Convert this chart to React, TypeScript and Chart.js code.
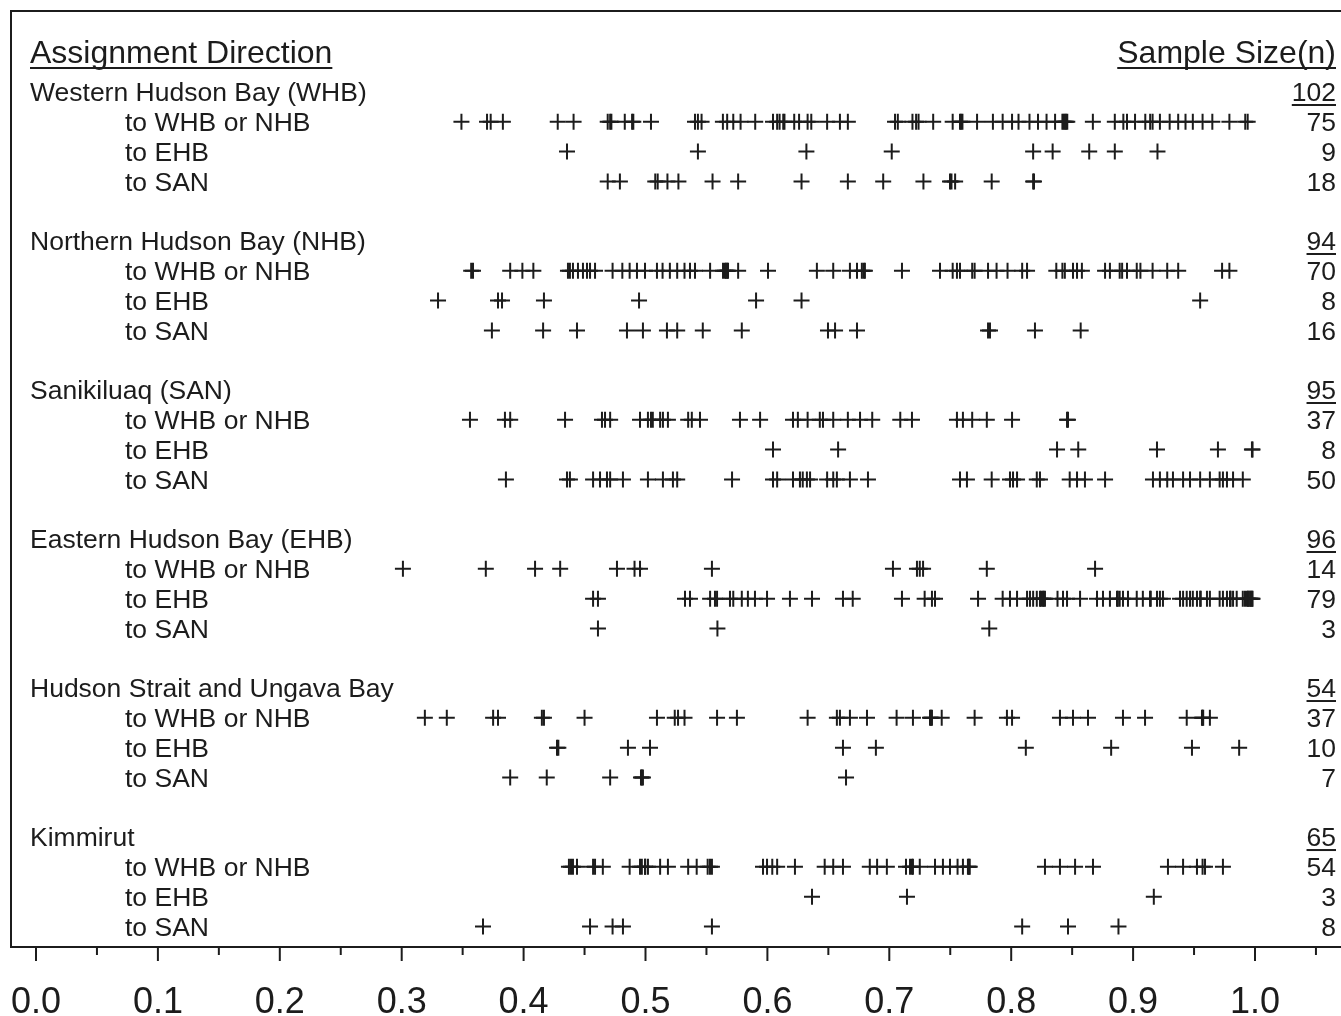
import React, { useEffect, useRef } from "react";
import { Chart, registerables } from "chart.js";

Chart.register(...registerables);

// ---------- data ----------
const groupNames = [
  "Western Hudson Bay (WHB)",
  "Northern Hudson Bay (NHB)",
  "Sanikiluaq (SAN)",
  "Eastern Hudson Bay (EHB)",
  "Hudson Strait and Ungava Bay",
  "Kimmirut",
];
const directionNames = ["to WHB or NHB", "to EHB", "to SAN"];
const groupTotals = [102, 94, 95, 96, 54, 65];
const rowCounts = [
  [75, 9, 18],
  [70, 8, 16],
  [37, 8, 50],
  [14, 79, 3],
  [37, 10, 7],
  [54, 3, 8],
];
const tickValues = [0, 0.1, 0.2, 0.3, 0.4, 0.5, 0.6, 0.7, 0.8, 0.9, 1.0];
const tickLabels = ["0.0", "0.1", "0.2", "0.3", "0.4", "0.5", "0.6", "0.7", "0.8", "0.9", "1.0"];
const minorTickValues = [0.05, 0.15, 0.25, 0.35, 0.45, 0.55, 0.65, 0.75, 0.85, 0.95, 1.05];

const whbToWN = [0.349, 0.370, 0.373, 0.383, 0.428, 0.441, 0.469, 0.471, 0.472, 0.483, 0.489, 0.490, 0.5045, 0.5406, 0.543, 0.546, 0.5635, 0.567, 0.572, 0.578, 0.590, 0.6046, 0.608, 0.610, 0.613, 0.614, 0.622, 0.626, 0.633, 0.636, 0.649, 0.6595, 0.666, 0.7047, 0.707, 0.719, 0.722, 0.724, 0.736, 0.752, 0.758, 0.759, 0.760, 0.772, 0.785, 0.793, 0.8007, 0.806, 0.815, 0.822, 0.829, 0.836, 0.842, 0.843, 0.844, 0.845, 0.846, 0.867, 0.885, 0.892, 0.895, 0.9016, 0.910, 0.914, 0.916, 0.922, 0.930, 0.937, 0.943, 0.949, 0.957, 0.965, 0.979, 0.992, 0.994];
const whbToEHB = [0.4356, 0.543, 0.632, 0.702, 0.818, 0.834, 0.864, 0.885, 0.920];
const whbToSAN = [0.469, 0.479, 0.508, 0.510, 0.518, 0.527, 0.555, 0.576, 0.628, 0.666, 0.695, 0.728, 0.7498, 0.751, 0.754, 0.784, 0.818, 0.8187];

const nhbToWN = [0.357, 0.3585, 0.389, 0.399, 0.408, 0.4364, 0.438, 0.4405, 0.4446, 0.4487, 0.452, 0.4545, 0.4586, 0.473, 0.481, 0.487, 0.493, 0.4996, 0.5094, 0.514, 0.520, 0.526, 0.532, 0.5365, 0.5406, 0.553, 0.5636, 0.5652, 0.566, 0.567, 0.5677, 0.576, 0.6005, 0.6406, 0.654, 0.6677, 0.6735, 0.6775, 0.679, 0.680, 0.7104, 0.7416, 0.752, 0.7555, 0.758, 0.768, 0.770, 0.781, 0.788, 0.797, 0.809, 0.813, 0.837, 0.842, 0.844, 0.8507, 0.854, 0.858, 0.877, 0.881, 0.889, 0.891, 0.895, 0.903, 0.906, 0.916, 0.928, 0.937, 0.973, 0.979];
const nhbToEHB = [0.3298, 0.379, 0.3823, 0.4167, 0.4947, 0.5907, 0.628, 0.955];
const nhbToSAN = [0.374, 0.416, 0.4438, 0.4848, 0.4979, 0.5176, 0.526, 0.547, 0.579, 0.6497, 0.6555, 0.6735, 0.781, 0.7826, 0.8195, 0.857];

const sanToWN = [0.356, 0.3847, 0.389, 0.434, 0.4643, 0.4668, 0.471, 0.4955, 0.502, 0.5045, 0.506, 0.512, 0.5143, 0.5184, 0.535, 0.538, 0.5447, 0.5775, 0.594, 0.621, 0.625, 0.633, 0.643, 0.6456, 0.654, 0.666, 0.676, 0.686, 0.709, 0.7186, 0.7555, 0.7604, 0.768, 0.780, 0.8007, 0.8458, 0.8466];
const sanToEHB = [0.6046, 0.658, 0.8376, 0.855, 0.9196, 0.9696, 0.9975, 0.998];
const sanToSAN = [0.3855, 0.4356, 0.438, 0.457, 0.4627, 0.4684, 0.471, 0.4815, 0.502, 0.5143, 0.5225, 0.526, 0.571, 0.6046, 0.608, 0.621, 0.6267, 0.629, 0.6324, 0.635, 0.649, 0.654, 0.657, 0.6677, 0.6825, 0.758, 0.7637, 0.784, 0.799, 0.8015, 0.8048, 0.821, 0.8236, 0.848, 0.854, 0.8605, 0.877, 0.9163, 0.922, 0.928, 0.9327, 0.941, 0.9467, 0.955, 0.963, 0.971, 0.9737, 0.977, 0.982, 0.990];

const ehbToWN = [0.301, 0.369, 0.4094, 0.43, 0.4766, 0.491, 0.4955, 0.5545, 0.703, 0.7227, 0.725, 0.7277, 0.780, 0.8688];
const ehbToEHB = [0.457, 0.461, 0.5324, 0.5365, 0.553, 0.557, 0.5587, 0.5693, 0.572, 0.579, 0.584, 0.5898, 0.5997, 0.6185, 0.6366, 0.662, 0.670, 0.7104, 0.729, 0.735, 0.7375, 0.7728, 0.793, 0.799, 0.8048, 0.813, 0.8154, 0.818, 0.821, 0.8236, 0.8245, 0.826, 0.8265, 0.8277, 0.838, 0.8425, 0.8458, 0.8565, 0.8704, 0.8753, 0.881, 0.8868, 0.8875, 0.889, 0.8917, 0.8958, 0.903, 0.908, 0.9139, 0.9145, 0.9196, 0.922, 0.9245, 0.9385, 0.941, 0.944, 0.9467, 0.949, 0.9524, 0.955, 0.9555, 0.9606, 0.963, 0.971, 0.9737, 0.977, 0.9795, 0.980, 0.982, 0.985, 0.990, 0.9918, 0.9934, 0.9943, 0.9948, 0.996, 0.9965, 0.9975, 0.998];
const ehbToSAN = [0.461, 0.559, 0.782];

const hsToWN = [0.319, 0.337, 0.375, 0.379, 0.415, 0.4167, 0.450, 0.5094, 0.524, 0.5267, 0.532, 0.5587, 0.575, 0.633, 0.657, 0.6595, 0.6677, 0.6817, 0.706, 0.7194, 0.7334, 0.7342, 0.735, 0.743, 0.770, 0.7965, 0.8007, 0.840, 0.8507, 0.863, 0.8917, 0.9098, 0.944, 0.9565, 0.957, 0.9575, 0.963];
const hsToEHB = [0.4274, 0.4285, 0.4856, 0.5037, 0.662, 0.689, 0.812, 0.882, 0.9483, 0.987];
const hsToSAN = [0.389, 0.419, 0.471, 0.4963, 0.497, 0.4979, 0.6645];

const kimToWN = [0.4372, 0.4389, 0.4405, 0.4438, 0.457, 0.4586, 0.465, 0.487, 0.4955, 0.497, 0.4996, 0.4998, 0.502, 0.512, 0.5184, 0.535, 0.542, 0.551, 0.5529, 0.5545, 0.5964, 0.5997, 0.604, 0.608, 0.6226, 0.647, 0.654, 0.662, 0.684, 0.690, 0.698, 0.7137, 0.717, 0.7186, 0.7194, 0.725, 0.7375, 0.744, 0.7498, 0.756, 0.7604, 0.7645, 0.7653, 0.766, 0.8277, 0.840, 0.8524, 0.8671, 0.9286, 0.941, 0.9524, 0.957, 0.959, 0.9737];
const kimToEHB = [0.6366, 0.7145, 0.917];
const kimToSAN = [0.3667, 0.4545, 0.473, 0.4815, 0.5545, 0.809, 0.8466, 0.888];

const rowSeries = [
  [whbToWN, whbToEHB, whbToSAN],
  [nhbToWN, nhbToEHB, nhbToSAN],
  [sanToWN, sanToEHB, sanToSAN],
  [ehbToWN, ehbToEHB, ehbToSAN],
  [hsToWN, hsToEHB, hsToSAN],
  [kimToWN, kimToEHB, kimToSAN],
];

// ---------- style ----------
const INK = "#1c1c1c";
const FONT = "'Liberation Sans', Arial, Helvetica, sans-serif";
const ROWS_PER_GROUP = 5;

export default function App() {
  const ref = useRef<HTMLCanvasElement | null>(null);

  useEffect(() => {
    if (!ref.current) return;

    const datasets: any[] = [];
    rowSeries.forEach((group, g) => {
      group.forEach((vals, d) => {
        const row = g * ROWS_PER_GROUP + d + 1;
        datasets.push({
          label: groupNames[g] + " " + directionNames[d],
          data: vals.map((v) => ({ x: v, y: row })),
          pointStyle: "cross",
          pointRadius: 8,
          pointBorderWidth: 2,
          borderColor: INK,
          backgroundColor: INK,
          showLine: false,
        });
      });
    });

    const overlay = {
      id: "overlay",
      afterDraw(chart: any) {
        const { ctx, chartArea } = chart;
        const xs = chart.scales.x;
        const ys = chart.scales.y;
        ctx.save();
        ctx.strokeStyle = INK;
        ctx.fillStyle = INK;
        ctx.lineWidth = 2;
        // frame
        ctx.beginPath();
        ctx.moveTo(chartArea.right, chartArea.top + 1);
        ctx.lineTo(chartArea.left + 1, chartArea.top + 1);
        ctx.lineTo(chartArea.left + 1, chartArea.bottom);
        ctx.lineTo(chartArea.right, chartArea.bottom);
        ctx.stroke();
        // ticks
        tickValues.forEach((v) => {
          const px = xs.getPixelForValue(v);
          ctx.beginPath();
          ctx.moveTo(px, chartArea.bottom);
          ctx.lineTo(px, chartArea.bottom + 14);
          ctx.stroke();
        });
        minorTickValues.forEach((v) => {
          const px = xs.getPixelForValue(v);
          ctx.beginPath();
          ctx.moveTo(px, chartArea.bottom);
          ctx.lineTo(px, chartArea.bottom + 8);
          ctx.stroke();
        });

        const rightX = 1336;
        const leftX = 30;
        const subX = 125;
        const dy = 2;
        ctx.textBaseline = "middle";

        const underline = (x0: number, x1: number, y: number) => {
          ctx.beginPath();
          ctx.lineWidth = 2;
          ctx.moveTo(x0, y);
          ctx.lineTo(x1, y);
          ctx.stroke();
        };

        // titles
        ctx.font = `32px ${FONT}`;
        const ty = ys.getPixelForValue(-1.34) + dy;
        ctx.textAlign = "left";
        ctx.fillText("Assignment Direction", leftX, ty);
        let w = ctx.measureText("Assignment Direction").width;
        underline(leftX, leftX + w, ty + 14);
        ctx.textAlign = "right";
        ctx.fillText("Sample Size(n)", rightX, ty);
        w = ctx.measureText("Sample Size(n)").width;
        underline(rightX - w, rightX, ty + 14);

        ctx.font = `26.5px ${FONT}`;
        groupNames.forEach((name, g) => {
          const hy = ys.getPixelForValue(g * ROWS_PER_GROUP) + dy;
          ctx.textAlign = "left";
          ctx.fillText(name, leftX, hy);
          ctx.textAlign = "right";
          const tot = String(groupTotals[g]);
          ctx.fillText(tot, rightX, hy);
          const tw = ctx.measureText(tot).width;
          underline(rightX - tw, rightX, hy + 11);
          directionNames.forEach((dn, d) => {
            const y = ys.getPixelForValue(g * ROWS_PER_GROUP + d + 1) + dy;
            ctx.textAlign = "left";
            ctx.fillText(dn, subX, y);
            ctx.textAlign = "right";
            ctx.fillText(String(rowCounts[g][d]), rightX, y);
          });
        });
        ctx.restore();
      },
    };

    const chart = new Chart(ref.current, {
      type: "scatter",
      data: { datasets },
      options: {
        animation: false,
        responsive: false,
        devicePixelRatio: 1,
        layout: { padding: { left: 10, top: 10, right: 40, bottom: 0 } },
        plugins: { legend: { display: false }, tooltip: { enabled: false } },
        scales: {
          x: {
            type: "linear",
            min: -0.02133,
            max: 1.08614,
            grid: { display: false, drawTicks: false },
            border: { display: false },
            afterBuildTicks: (scale: any) => {
              scale.ticks = tickValues.map((v) => ({ value: v }));
            },
            afterFit: (scale: any) => {
              scale.height = 69;
              scale.paddingLeft = 0;
              scale.paddingRight = 0;
            },
            ticks: {
              autoSkip: false,
              maxRotation: 0,
              padding: 34,
              color: INK,
              font: { size: 36, family: FONT },
              callback: (_v: any, i: number) => tickLabels[i],
            },
          },
          y: {
            type: "linear",
            display: false,
            reverse: true,
            min: -2.752,
            max: 28.69,
          },
        },
      },
      plugins: [overlay],
    });

    return () => chart.destroy();
  }, []);

  return (
    <div
      style={{
        position: "fixed",
        left: 0,
        top: 0,
        width: 1341,
        height: 1016,
        overflow: "hidden",
        background: "#ffffff",
      }}
    >
      <canvas ref={ref} width={1400} height={1016} style={{ display: "block", width: 1400, height: 1016 }} />
    </div>
  );
}
